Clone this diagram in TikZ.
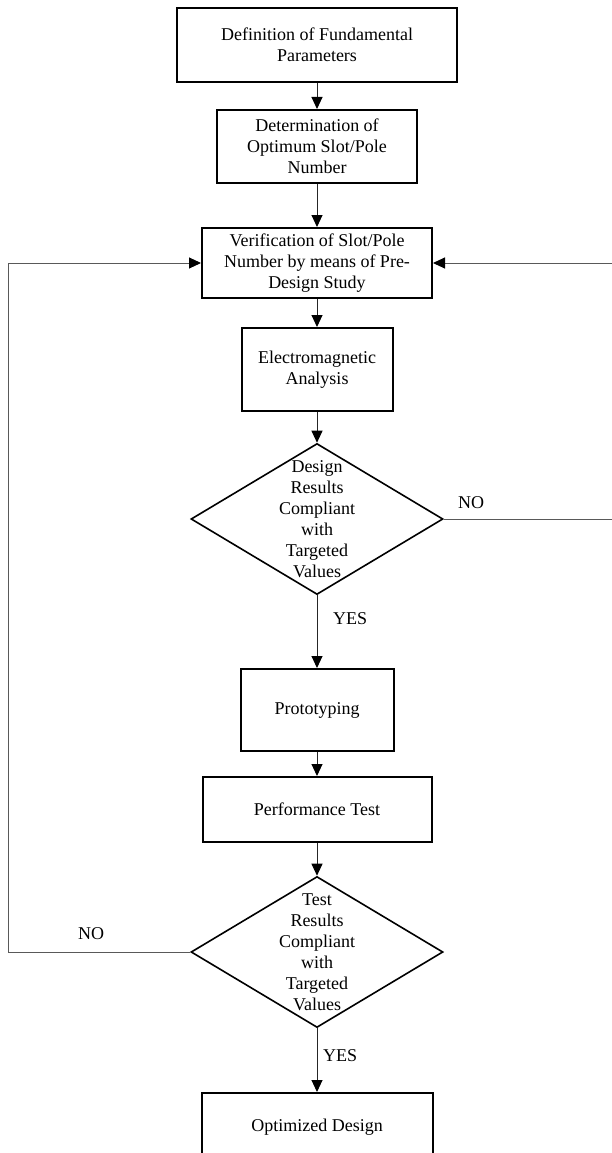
\documentclass[tikz,border=0pt]{standalone}
\usepackage{fontspec}
\setmainfont{Liberation Serif}
\usetikzlibrary{shapes.geometric,arrows.meta}

\begin{document}
\begin{tikzpicture}[x=1pt,y=-1pt,
        >={Triangle[length=12pt,width=11pt,color=black]},
        every node/.style={font=\fontsize{18}{21}\selectfont},
        stepbox/.style={draw,line width=2pt,align=center,inner sep=0pt},
        decision/.style={draw,diamond,line width=1.6pt,minimum width=252pt,minimum height=151pt,inner sep=0pt},
        flow/.style={->,line width=1pt,draw=black!85},
        loopline/.style={->,line width=1pt,draw=black!65},
        answer/.style={anchor=base west,inner sep=0pt}]
        \useasboundingbox (0,0) rectangle (611,1153);

        \node[stepbox,minimum width=280pt,minimum height=74pt] (params) at (317,45) {Definition of Fundamental\\Parameters};
        \node[stepbox,minimum width=200pt,minimum height=73pt] (slotpole) at (317,146.5) {Determination of\\Optimum Slot/Pole\\Number};
        \node[stepbox,minimum width=230pt,minimum height=70pt] (verify) at (317,263) {Verification of Slot/Pole\\Number by means of Pre-\\Design Study};
        \node[stepbox,minimum width=151pt,minimum height=83pt] (emag) at (317,369.5) {Electromagnetic\\Analysis};
        \node[decision] (check1) at (317,519) {\smash{\raisebox{-6pt}{\begin{tabular}{@{}c@{}}Design\\Results\\Compliant\\with\\Targeted\\Values\end{tabular}}}};
        \node[stepbox,minimum width=153pt,minimum height=82pt] (proto) at (317,710) {Prototyping};
        \node[stepbox,minimum width=229pt,minimum height=65pt] (perf) at (317,809.5) {Performance Test};
        \node[decision] (check2) at (317,952) {\smash{\raisebox{-6pt}{\begin{tabular}{@{}c@{}}Test\\Results\\Compliant\\with\\Targeted\\Values\end{tabular}}}};
        \node[stepbox,minimum width=231pt,minimum height=68pt] (optimal) at (317,1127) {Optimized Design};

        \draw[flow] (params) -- (slotpole);
        \draw[flow] (slotpole) -- (verify);
        \draw[flow] (verify) -- (emag);
        \draw[flow] (emag) -- (check1);
        \draw[flow] (check1) -- (proto);
        \draw[flow] (proto) -- (perf);
        \draw[flow] (perf) -- (check2);
        \draw[flow] (check2) -- (optimal);

        \coordinate (rightrail) at (612,0);
        \coordinate (leftrail) at (8,0);
        \draw[loopline] (check1.east) -- (check1.east -| rightrail) |- (verify.east);
        \draw[loopline] (check2.west) -- (check2.west -| leftrail) |- (verify.west);

        \node[answer] (no1) at (458,508) {NO};
        \node[answer] (yes1) at (333,624) {YES};
        \node[answer] (no2) at (78,939) {NO};
        \node[answer] (yes2) at (323,1061) {YES};
    \end{tikzpicture}
\end{document}
